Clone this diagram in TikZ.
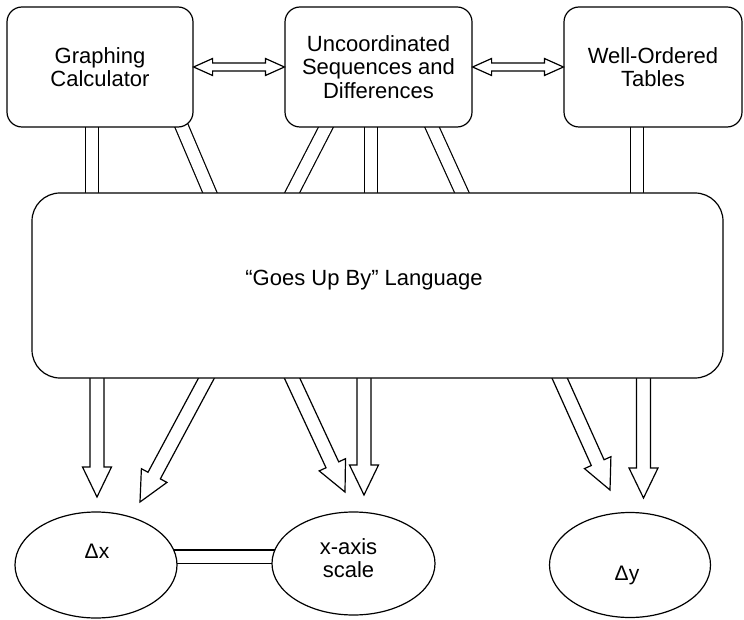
\documentclass[tikz,border=0pt]{standalone}
\usepackage{fontspec}
\setmainfont{Liberation Sans}
\usetikzlibrary{calc,shapes.geometric}
\pgfdeclarelayer{bg}
\pgfsetlayers{bg,main}
\tikzset{
 lw/.style={line width=1.2pt},
 txt/.style={font=\fontsize{22}{23.5}\selectfont, align=center, inner sep=0pt},
 topbox/.style={draw, lw, fill=white, rounded corners=15pt, minimum height=120pt, inner sep=0pt, txt},
 bigbox/.style={draw, lw, fill=white, rounded corners=28pt, minimum width=691pt, minimum height=185pt, inner sep=0pt},
 oval/.style={draw, lw, fill=white, ellipse, inner sep=0pt},
 link/.style={lw, double=white, double distance=12pt},
 fat/.style={lw, fill=white, line join=miter},
}
\newcommand{\fatarrow}[2]{%
 \path ($(#2)!30pt!(#1)$) coordinate (fab);
 \draw[fat] ($(#1)!7pt!90:(#2)$) -- ($(fab)!7pt!-90:(#1)$) -- ($(fab)!14.5pt!-90:(#1)$) -- (#2)
   -- ($(fab)!14.5pt!90:(#1)$) -- ($(fab)!7pt!90:(#1)$) -- ($(#1)!7pt!-90:(#2)$);
}
\newcommand{\dblarrow}[2]{%
 \path ($(#1)!19pt!(#2)$) coordinate (daa) ($(#2)!19pt!(#1)$) coordinate (dab);
 \draw[fat] (#1) -- ($(daa)!8.5pt!90:(#2)$) -- ($(daa)!4pt!90:(#2)$) -- ($(dab)!4pt!-90:(#1)$)
   -- ($(dab)!8.5pt!-90:(#1)$) -- (#2) -- ($(dab)!8.5pt!90:(#1)$) -- ($(dab)!4pt!90:(#1)$)
   -- ($(daa)!4pt!-90:(#2)$) -- ($(daa)!8.5pt!-90:(#2)$) -- cycle;
}
\begin{document}
\begin{tikzpicture}[x=1pt,y=-1pt]
\useasboundingbox (0,0) rectangle (744,620);
% top boxes
\node[topbox, minimum width=186pt] (gc) at (100,67) {Graphing\\Calculator};
\node[topbox, minimum width=187pt] (uc) at (378.5,67) {Uncoordinated\\Sequences and\\Differences};
\node[topbox, minimum width=178pt] (wo) at (653,67) {Well-Ordered\\Tables};
% big box
\node[bigbox] (lang) at (377.5,285.5) {};
\node[txt] (langt) at (364,280) {“Goes Up By” Language};
% ellipses
\node[oval, minimum width=162pt, minimum height=106pt] (dx) at (96,565) {};
\node[txt, font=\fontsize{21}{23.5}\selectfont] (dxt) at (97,551) {Δx};
\node[oval, minimum width=163pt, minimum height=103pt] (xs) at (353.5,563.5) {};
\node[txt] (xst) at (348.5,558) {x-axis\\scale};
\node[oval, minimum width=161pt, minimum height=105pt] (dy) at (630,565) {};
\node[txt, font=\fontsize{21}{23.5}\selectfont] (dyt) at (627,575) {Δy};
% double arrows between top boxes
\dblarrow{gc.east}{uc.west}
\dblarrow{uc.east}{wo.west}
% connectors behind boxes
\coordinate (a1) at (92,120);   \coordinate (b1) at (92,200);
\coordinate (a2) at (179,120);  \coordinate (b2) at (213,200);
\coordinate (a3) at (329.6,120);\coordinate (b3) at (288.4,200);
\coordinate (a4) at (371,120);  \coordinate (b4) at (371,200);
\coordinate (a5) at (428.8,120);\coordinate (b5) at (465.2,200);
\coordinate (a6) at (637,120);  \coordinate (b6) at (637,200);
\coordinate (s1) at (97,370);    \coordinate (t1) at (97,497);
\coordinate (s2) at (210.8,370); \coordinate (t2) at (140,502);
\coordinate (s3) at (288.3,370); \coordinate (t3) at (345,492);
\coordinate (s4) at (364,370);   \coordinate (t4) at (364,495);
\coordinate (s5) at (556,370);   \coordinate (t5) at (610,490);
\coordinate (s6) at (643.5,370); \coordinate (t6) at (643.5,498);
\begin{pgfonlayer}{bg}
\foreach \i in {1,...,6} {\draw[link] (a\i) -- (b\i);}
\draw[link] ($(dx.center)+(0,-8.5)$) -- ($(xs.center)+(0,-7)$);
\fatarrow{s1}{t1}
\fatarrow{s2}{t2}
\fatarrow{s3}{t3}
\fatarrow{s4}{t4}
\fatarrow{s5}{t5}
\fatarrow{s6}{t6}
\end{pgfonlayer}
\end{tikzpicture}
\end{document}
